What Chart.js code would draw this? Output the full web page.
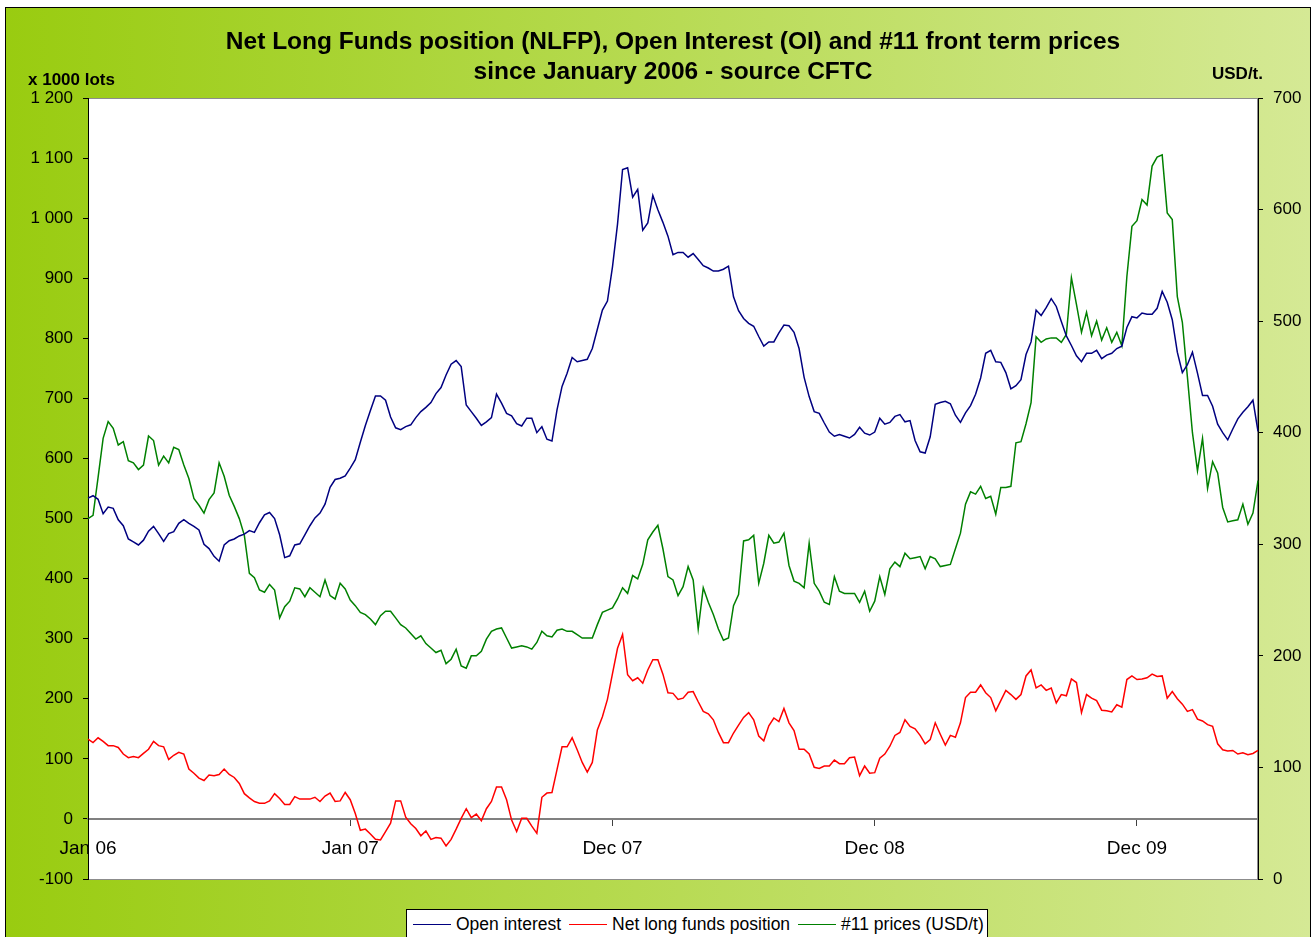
<!DOCTYPE html>
<html>
<head>
<meta charset="utf-8">
<script src="https://cdn.jsdelivr.net/npm/chart.js@4.4.0/dist/chart.umd.min.js"></script>
<style>
  body { margin: 0; background: #fff; overflow: hidden; font-family: "Liberation Sans", Arial, sans-serif; }
  #frame { position: absolute; left: 5px; top: 7px; width: 1306px; height: 960px; box-sizing: border-box;
           border: 1px solid #000; background: linear-gradient(to right, #99cc10, #d5e995); }
  #mycanvas { position: absolute; left: 0; top: 0; }
  #legend { position: absolute; left: 406px; top: 909px; width: 582px; height: 40px; box-sizing: border-box;
            background: #fff; border: 1px solid #000; display: flex; align-items: flex-start;
            padding: 4px 0 0 6px; font-size: 17.5px; line-height: 20px; }
  #legend .item { display: flex; align-items: center; margin-right: 8px; white-space: nowrap; }
  #legend .swatch { width: 38px; height: 0; border-top: 1.5px solid; margin-right: 5px; }
</style>
</head>
<body>
<div id="frame"></div>
<canvas id="mycanvas" width="1315" height="937"></canvas>
<div id="legend"></div>
<script>
var titleLines = ['Net Long Funds position (NLFP), Open Interest (OI) and #11 front term prices',
                  'since January 2006 - source CFTC'];
var leftUnit = 'x 1000 lots';
var rightUnit = 'USD/t.';

// one point per week, a label every 52 weeks
var tickLabels = ['Jan 06', 'Jan 07', 'Dec 07', 'Dec 08', 'Dec 09'];
var weeksPerLabel = 52;

var openInterest = [
  534, 538, 532, 508, 519, 517, 498, 488, 466, 461,
  456, 464, 479, 487, 475, 462, 475, 478, 492, 498,
  492, 487, 481, 457, 450, 437, 429, 456, 463, 466,
  471, 474, 480, 477, 493, 506, 510, 500, 473, 435,
  438, 456, 458, 473, 488, 501, 509, 524, 552, 565,
  567, 571, 584, 598, 627, 655, 680, 704, 704, 697,
  669, 651, 648, 653, 656, 668, 678, 685, 693, 708,
  718, 739, 757, 763, 753, 689, 678, 667, 655, 661,
  668, 707, 692, 675, 671, 658, 654, 667, 667, 643,
  653, 632, 629, 681, 720, 742, 768, 761, 763, 765,
  783, 815, 847, 862, 919, 990, 1081, 1084, 1035, 1048,
  980, 992, 1038, 1014, 993, 970, 939, 943, 943, 935,
  941, 931, 921, 917, 912, 912, 915, 920, 869, 846,
  833, 825, 820, 803, 787, 794, 794, 809, 822, 821,
  810, 783, 735, 703, 678, 675, 659, 644, 637, 640,
  637, 634, 640, 652, 642, 639, 644, 667, 657, 660,
  670, 673, 661, 663, 630, 611, 609, 636, 690, 693,
  695, 691, 672, 660, 676, 688, 707, 734, 775, 780,
  761, 760, 743, 716, 721, 731, 773, 794, 847, 838,
  851, 866, 853, 828, 804, 788, 771, 761, 775, 775,
  780, 766, 772, 775, 783, 787, 818, 836, 834, 842,
  840, 840, 850, 878, 860, 831, 777, 743, 756, 777,
  742, 705, 705, 687, 657, 643, 631, 649, 666, 677,
  686, 697, 645
];

var netLongFunds = [
  133, 127, 135, 129, 122, 122, 119, 108, 102, 104,
  102, 109, 116, 129, 122, 120, 99, 106, 111, 108,
  83, 76, 68, 64, 73, 72, 74, 83, 74, 69,
  59, 42, 35, 29, 26, 26, 30, 42, 34, 24,
  24, 37, 33, 33, 33, 36, 29, 38, 43, 29,
  30, 44, 32, 9, -19, -17, -25, -34, -35, -21,
  -7, 30, 30, 3, -8, -16, -28, -20, -34, -31,
  -32, -45, -34, -17, 1, 17, 2, 8, -3, 17,
  29, 53, 53, 32, -2, -21, 1, 1, -12, -24,
  36, 43, 44, 82, 120, 120, 135, 115, 94, 78,
  94, 148, 170, 199, 242, 284, 307, 240, 230, 235,
  226, 248, 265, 265, 241, 210, 209, 199, 201, 211,
  212, 195, 179, 175, 165, 144, 127, 127, 143, 156,
  169, 177, 165, 138, 130, 155, 168, 162, 184, 160,
  147, 116, 116, 108, 86, 84, 88, 88, 98, 92,
  92, 102, 103, 72, 88, 76, 77, 101, 108, 121,
  139, 144, 165, 154, 150, 139, 125, 132, 160, 141,
  123, 139, 136, 160, 202, 211, 211, 223, 210, 202,
  180, 197, 214, 207, 199, 207, 238, 248, 218, 223,
  214, 218, 193, 207, 205, 233, 227, 177, 207, 201,
  197, 181, 180, 178, 190, 186, 232, 238, 232, 233,
  235, 241, 237, 238, 201, 212, 200, 191, 179, 182,
  166, 163, 157, 154, 125, 115, 113, 114, 108, 110,
  107, 109, 114
];

var prices = [
  323, 326, 360, 395, 410, 404, 389, 392, 375, 373,
  367, 371, 397, 393, 371, 379, 373, 387, 385, 371,
  359, 341, 335, 328, 340, 346, 373, 361, 344, 334,
  323, 308, 274, 270, 259, 257, 264, 259, 234, 244,
  249, 261, 260, 253, 261, 257, 253, 268, 254, 251,
  265, 260, 250, 245, 239, 237, 233, 228, 236, 240,
  240, 234, 228, 225, 220, 215, 218, 211, 207, 203,
  205, 193, 197, 206, 191, 189, 200, 200, 204, 215,
  222, 224, 225, 216, 207, 208, 209, 208, 206, 212,
  222, 218, 217, 223, 224, 222, 222, 219, 216, 216,
  216, 228, 239, 241, 243, 251, 261, 256, 272, 269,
  282, 304, 311, 317, 296, 271, 268, 254, 262, 280,
  268, 224, 261, 248, 237, 224, 214, 216, 245, 255,
  303, 304, 308, 265, 283, 308, 301, 302, 310, 281,
  267, 265, 261, 301, 265, 258, 248, 246, 271, 258,
  256, 256, 256, 248, 258, 240, 249, 271, 255, 278,
  284, 280, 292, 287, 288, 289, 278, 289, 287, 280,
  281, 282, 296, 310, 336, 347, 345, 352, 341, 343,
  327, 351, 351, 352, 391, 392, 408, 427, 486, 481,
  484, 485, 485, 481, 488, 539, 515, 490, 508, 487,
  500, 483, 494, 481, 490, 478, 540, 585, 590, 609,
  604, 639, 647, 649, 597, 591, 522, 499, 450, 400,
  366, 395, 350, 374, 364, 333, 320, 321, 322, 336,
  318, 328, 357
];

var labels = [];
for (var i = 0; i < openInterest.length; i++) {
  labels.push(i % weeksPerLabel === 0 ? tickLabels[i / weeksPerLabel] : '');
}

Chart.defaults.font.family = '"Liberation Sans", Arial, sans-serif';
Chart.defaults.color = '#000';

// white plot area with grey frame
var plotArea = {
  id: 'plotArea',
  beforeDraw: function(chart) {
    var a = chart.chartArea, ctx = chart.ctx;
    ctx.save();
    ctx.fillStyle = '#fff';
    ctx.fillRect(a.left, a.top, a.right - a.left, a.bottom - a.top);
    ctx.strokeStyle = '#8c8c8c';
    ctx.lineWidth = 1;
    ctx.strokeRect(a.left + 0.5, a.top + 0.5, a.right - a.left - 1, a.bottom - a.top);
    ctx.restore();
  }
};

// title and unit captions
var chartText = {
  id: 'chartText',
  afterDraw: function(chart) {
    var a = chart.chartArea, ctx = chart.ctx;
    var cx = (a.left + a.right) / 2;
    ctx.save();
    ctx.fillStyle = '#000';
    ctx.textBaseline = 'middle';
    ctx.textAlign = 'center';
    ctx.font = 'bold 24.5px "Liberation Sans", Arial, sans-serif';
    ctx.fillText(titleLines[0], cx, 42);
    ctx.fillText(titleLines[1], cx, 72);
    ctx.font = 'bold 17px "Liberation Sans", Arial, sans-serif';
    ctx.textAlign = 'left';
    ctx.fillText(leftUnit, 28, 80);
    ctx.textAlign = 'right';
    ctx.fillText(rightUnit, a.right + 5, 74);
    ctx.restore();
  }
};

function spaced(v) {
  return String(v).replace(/\B(?=(\d{3})+(?!\d))/g, ' ');
}

var ctx = document.getElementById('mycanvas');
var chart = new Chart(ctx, {
  type: 'line',
  data: {
    labels: labels,
    datasets: [
      { label: 'Open interest', data: openInterest, yAxisID: 'y',
        borderColor: '#000080', backgroundColor: '#000080', borderWidth: 1.5, pointRadius: 0, tension: 0 },
      { label: 'Net long funds position', data: netLongFunds, yAxisID: 'y',
        borderColor: '#ff0000', backgroundColor: '#ff0000', borderWidth: 1.5, pointRadius: 0, tension: 0 },
      { label: '#11 prices (USD/t)', data: prices, yAxisID: 'y2',
        borderColor: '#008000', backgroundColor: '#008000', borderWidth: 1.5, pointRadius: 0, tension: 0 }
    ]
  },
  options: {
    responsive: false,
    animation: false,
    devicePixelRatio: 1,
    layout: { padding: { top: 98, bottom: 58, left: 0, right: 0 } },
    plugins: {
      legend: { display: false },
      tooltip: { enabled: false }
    },
    scales: {
      x: {
        type: 'category',
        offset: false,
        position: { y: 0 },
        afterBuildTicks: function(axis) {
          axis.ticks = axis.ticks.filter(function(t) { return t.value % weeksPerLabel === 0; });
        },
        grid: { drawOnChartArea: false, tickLength: 6, tickColor: '#404040', tickWidth: 1 },
        border: { color: '#808080', width: 2 },
        ticks: { autoSkip: false, maxRotation: 0, padding: 12, font: { size: 19 } }
      },
      y: {
        position: 'left',
        min: -100, max: 1200,
        afterFit: function(s) { s.width = 88; },
        grid: { drawOnChartArea: false, tickLength: 5, tickColor: '#000' },
        border: { color: '#000', width: 1 },
        ticks: { stepSize: 100, padding: 10, font: { size: 17 }, callback: function(v) { return spaced(v); } }
      },
      y2: {
        position: 'right',
        min: 0, max: 700,
        afterFit: function(s) { s.width = 57; },
        grid: { drawOnChartArea: false, tickLength: 5, tickColor: '#000' },
        border: { color: '#000', width: 1 },
        ticks: { stepSize: 100, padding: 10, font: { size: 17 } }
      }
    }
  },
  plugins: [plotArea, chartText]
});

// legend drawn as html below the plot, from the chart's own datasets
var legend = document.getElementById('legend');
chart.data.datasets.forEach(function(ds) {
  var item = document.createElement('span');
  item.className = 'item';
  var sw = document.createElement('span');
  sw.className = 'swatch';
  sw.style.borderTopColor = ds.borderColor;
  item.appendChild(sw);
  item.appendChild(document.createTextNode(ds.label));
  legend.appendChild(item);
});
</script>
</body>
</html>
